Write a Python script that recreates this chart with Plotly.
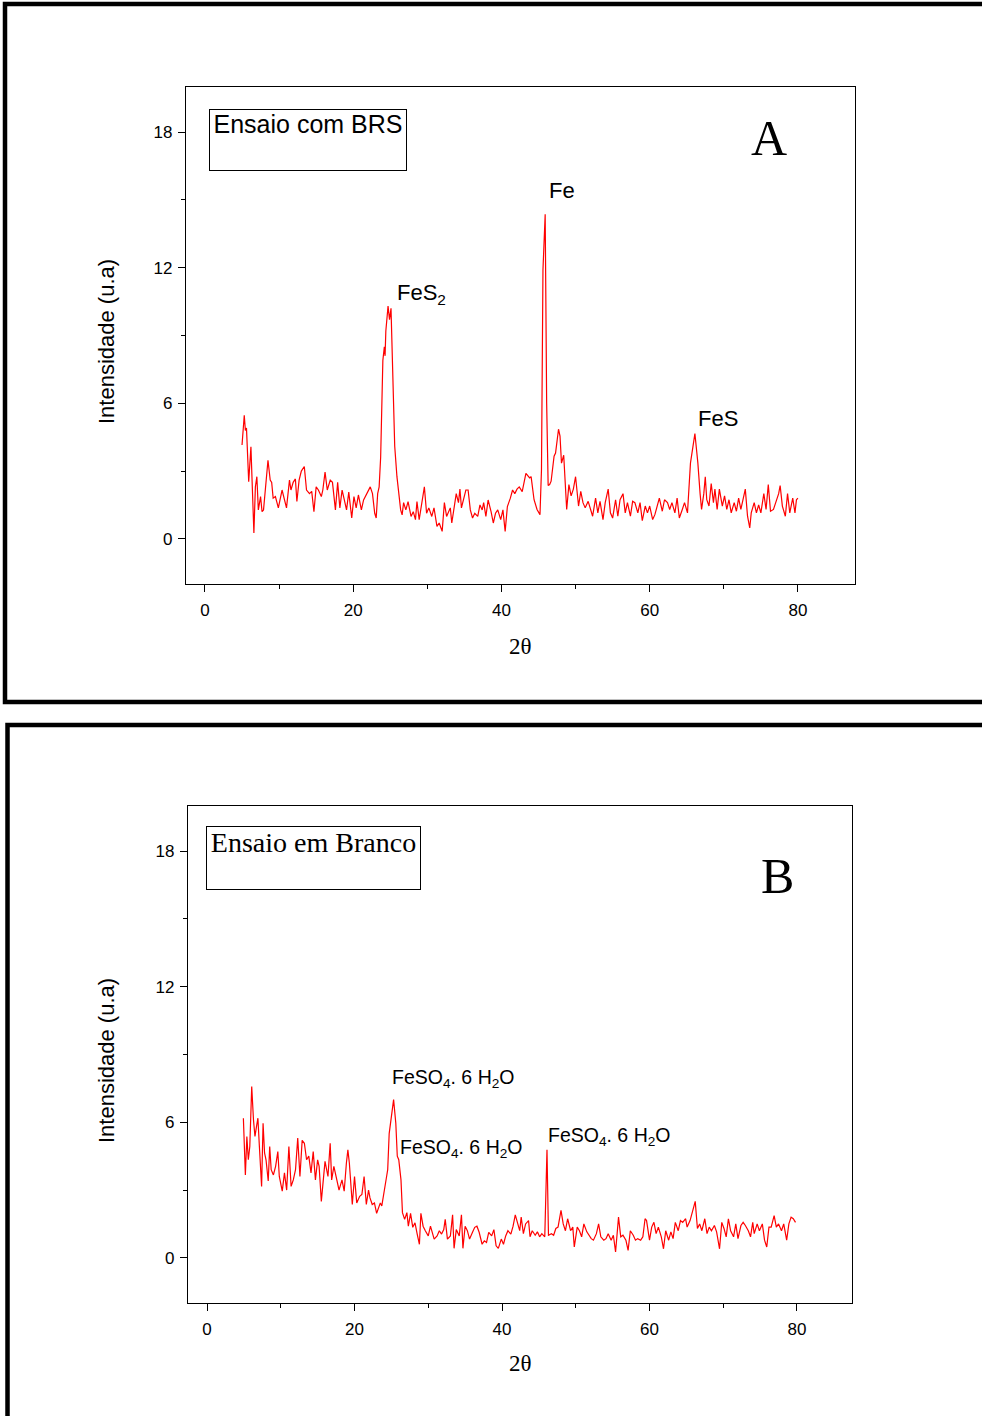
import plotly.graph_objects as go

# ---------------- data ----------------
a_x = [5.0, 5.3, 5.45, 5.6, 5.9, 6.2, 6.4, 6.6, 6.8, 7.0, 7.2, 7.5, 7.7, 7.9, 8.5, 8.8, 9.0, 9.2, 9.5, 9.7,
       9.9, 10.4, 10.7, 11.0, 11.4, 11.6, 11.9, 12.2, 12.4, 12.7, 13.0, 13.4, 13.7, 14.1, 14.4, 14.7, 15.0, 15.3,
       15.7, 15.9, 16.2, 16.5, 16.9, 17.2, 17.6, 17.9, 18.2, 18.5, 18.8, 19.1, 19.4, 19.8, 20.1, 20.4, 20.7, 21.1,
       21.4, 21.7, 22.3, 22.6, 22.9, 23.1, 23.3, 23.5, 23.7, 24.0, 24.2, 24.3, 24.4, 24.7, 24.9, 25.1, 25.3, 25.6,
       25.9, 26.1, 26.4, 26.6, 26.8, 27.1, 27.4, 27.8, 28.1, 28.4, 28.6, 28.9, 29.6, 29.9, 30.2, 30.6, 30.9, 31.3,
       31.6, 32.0, 32.3, 32.6, 33.1, 33.3, 33.9, 34.2, 34.4, 34.6, 34.9, 35.2, 35.5, 35.8, 36.1, 36.4, 36.8, 37.1,
       37.4, 37.6, 37.9, 38.2, 38.6, 38.9, 39.2, 39.5, 39.9, 40.2, 40.5, 40.8, 41.2, 41.5, 41.8, 42.1, 42.4, 42.8,
       43.3, 43.8, 44.0, 44.4, 44.8, 45.2, 45.4, 45.6, 45.9, 46.1, 46.3, 46.5, 46.7, 47.1, 47.3, 47.7, 47.9, 48.1,
       48.4, 48.6, 48.8, 49.1, 49.4, 49.7, 50.0, 50.4, 50.7, 51.0, 51.3, 51.7, 52.0, 52.3, 52.7, 53.0, 53.3, 53.7,
       54.0, 54.4, 54.7, 55.0, 55.4, 55.7, 56.0, 56.4, 56.7, 57.0, 57.4, 57.7, 58.0, 58.4, 58.7, 59.0, 59.4, 59.7,
       60.0, 60.4, 60.7, 61.0, 61.3, 61.7, 62.0, 62.4, 62.7, 63.0, 63.4, 63.7, 64.0, 64.4, 64.7, 65.1, 65.3, 65.5,
       66.1, 66.3, 66.5, 66.8, 67.0, 67.3, 67.5, 67.7, 68.0, 68.3, 68.6, 68.8, 69.1, 69.4, 69.8, 70.1, 70.4, 70.7,
       71.0, 71.4, 71.7, 72.0, 72.3, 72.9, 73.2, 73.5, 73.7, 74.1, 74.4, 74.7, 75.0, 75.4, 75.7, 76.0, 76.3, 76.7,
       77.0, 77.4, 77.6, 77.9, 78.3, 78.6, 78.9, 79.3, 79.6, 79.8, 80.0]
a_y = [4.15, 5.47, 4.8, 4.9, 2.53, 4.07, 2.16, 0.26, 2.3, 2.75, 1.28, 1.87, 1.2, 1.28, 3.48, 2.6, 2.5, 1.8, 1.87, 1.6,
       1.37, 2.16, 1.8, 1.37, 2.6, 2.16, 2.5, 2.65, 1.65, 2.6, 3.0, 3.2, 2.16, 2.0, 2.1, 1.2, 2.3, 2.16,
       1.87, 2.16, 2.95, 2.16, 2.6, 2.5, 1.28, 2.5, 1.37, 2.16, 1.72, 1.28, 2.07, 0.92, 1.87, 1.37, 1.94, 1.28,
       1.72, 1.94, 2.3, 2.0, 1.13, 0.92, 2.0, 2.3, 3.6, 7.9, 8.5, 8.1, 9.2, 10.3, 9.7, 10.2, 7.3, 4.1,
       2.75, 2.16, 1.28, 1.06, 1.6, 1.28, 1.65, 0.99, 1.2, 0.85, 1.65, 0.85, 2.3, 1.13, 1.37, 0.99, 1.37, 0.55,
       0.7, 0.33, 1.6, 0.99, 1.37, 0.7, 2.0, 1.6, 2.2, 1.37, 1.72, 2.16, 2.16, 1.28, 0.92, 1.13, 0.99, 1.5,
       1.28, 1.6, 0.99, 1.72, 1.2, 0.7, 1.13, 1.28, 0.85, 1.28, 0.33, 1.43, 1.8, 2.16, 2.0, 2.2, 2.3, 2.09,
       2.9, 2.7, 2.75, 1.73, 1.3, 1.07, 3.06, 11.9, 14.37, 6.0, 2.36, 2.4, 2.55, 3.66, 3.8, 4.85, 4.55, 3.35,
       3.7, 2.36, 1.3, 2.4, 1.9, 2.2, 2.75, 1.45, 2.1, 1.6, 1.37, 1.66, 1.3, 1.0, 1.8, 1.15, 1.66, 0.85,
       1.6, 2.2, 1.15, 0.92, 1.73, 1.0, 1.73, 2.0, 1.15, 1.6, 1.0, 1.66, 1.6, 1.15, 1.6, 0.8, 1.45, 1.15,
       1.45, 0.85, 1.07, 1.45, 1.8, 1.22, 1.73, 1.6, 1.3, 1.6, 1.15, 1.8, 0.92, 1.3, 1.6, 1.15, 2.2, 3.35,
       4.66, 4.1, 3.35, 2.0, 1.3, 2.0, 2.75, 1.73, 1.45, 2.45, 1.6, 2.2, 1.3, 2.2, 1.45, 1.9, 1.3, 1.73,
       1.15, 1.6, 1.22, 1.8, 1.3, 2.2, 1.0, 0.48, 1.15, 1.6, 1.15, 1.5, 1.15, 2.0, 1.3, 2.4, 1.22, 1.3,
       1.6, 2.0, 2.36, 1.45, 1.0, 2.0, 1.15, 1.8, 1.15, 1.73, 1.8]

b_x = [4.93, 5.2, 5.4, 5.6, 5.8, 6.06, 6.3, 6.5, 6.7, 6.9, 7.1, 7.4, 7.6, 7.8, 8.0, 8.3, 8.5, 8.7, 9.0, 9.3,
       9.6, 9.8, 10.2, 10.5, 10.8, 11.1, 11.4, 11.7, 12.0, 12.3, 12.6, 12.9, 13.2, 13.5, 13.8, 14.1, 14.4, 14.7,
       15.0, 15.2, 15.5, 15.8, 16.0, 16.4, 16.7, 16.9, 17.2, 17.6, 17.9, 18.3, 18.6, 18.9, 19.1, 19.3, 19.7, 20.0,
       20.3, 20.7, 21.0, 21.3, 21.6, 21.9, 22.1, 22.4, 22.7, 23.0, 23.2, 23.5, 23.7, 24.0, 24.3, 24.5, 24.7, 25.3,
       25.6, 25.8, 26.0, 26.3, 26.5, 26.8, 27.1, 27.3, 27.6, 27.9, 28.2, 28.5, 28.8, 29.0, 29.3, 29.6, 30.0, 30.3,
       30.6, 30.8, 31.2, 31.5, 31.8, 32.1, 32.3, 32.6, 33.0, 33.3, 33.5, 33.8, 34.2, 34.5, 34.7, 35.0, 35.3, 35.6,
       36.0, 36.3, 36.6, 36.9, 37.3, 37.6, 37.9, 38.2, 38.6, 38.9, 39.2, 39.5, 39.9, 40.2, 40.5, 40.8, 41.2, 41.5,
       41.8, 42.1, 42.4, 42.6, 42.9, 43.2, 43.6, 43.8, 44.1, 44.5, 44.8, 45.1, 45.4, 45.8, 46.1, 46.3, 46.7, 47.0,
       47.3, 47.6, 48.0, 48.3, 48.6, 48.9, 49.3, 49.6, 49.8, 50.2, 50.5, 50.8, 51.1, 51.5, 51.8, 52.1, 52.4, 52.8,
       53.1, 53.4, 53.8, 54.1, 54.4, 54.8, 55.1, 55.4, 55.8, 56.1, 56.4, 56.8, 57.1, 57.4, 57.8, 58.1, 58.4, 58.8,
       59.1, 59.4, 59.6, 60.0, 60.3, 60.6, 60.9, 61.2, 61.6, 61.9, 62.2, 62.6, 62.9, 63.2, 63.5, 63.9, 64.2, 64.5,
       64.9, 65.1, 65.5, 66.2, 66.5, 66.8, 67.1, 67.5, 67.8, 68.1, 68.4, 68.8, 69.1, 69.5, 69.8, 70.1, 70.4, 70.7,
       71.0, 71.4, 71.7, 72.0, 72.4, 72.7, 73.0, 73.4, 73.7, 74.0, 74.2, 74.6, 74.9, 75.3, 75.6, 75.9, 76.2, 76.5,
       76.9, 77.2, 77.5, 77.9, 78.2, 78.6, 78.9, 79.2, 79.5, 79.8]
b_y = [6.18, 3.67, 5.37, 4.34, 4.93, 7.58, 6.1, 5.37, 5.8, 6.18, 4.93, 3.16, 5.96, 4.64, 4.34, 3.4, 4.93, 3.9, 3.67, 4.05,
       4.7, 3.6, 2.95, 3.76, 3.0, 4.93, 3.16, 3.45, 3.9, 5.3, 3.6, 5.2, 5.07, 4.34, 4.5, 3.76, 4.7, 3.45,
       4.34, 4.05, 2.5, 3.76, 4.27, 3.6, 5.07, 3.45, 4.05, 3.45, 3.0, 3.45, 2.95, 4.2, 4.78, 4.2, 2.36, 3.6,
       2.43, 2.72, 2.8, 3.6, 2.36, 3.0, 2.65, 2.36, 2.43, 1.97, 2.2, 2.43, 2.3, 3.0, 3.5, 3.9, 5.5, 7.0,
       5.96, 4.5, 4.34, 3.45, 2.0, 1.7, 2.0, 1.4, 1.97, 1.35, 1.55, 1.05, 0.6, 1.97, 1.4, 1.2, 0.97, 1.4,
       1.05, 0.83, 0.97, 1.2, 1.05, 1.25, 1.7, 0.83, 0.97, 1.9, 0.42, 1.25, 0.97, 1.9, 0.42, 1.4, 1.2, 0.83,
       1.13, 1.35, 1.4, 1.13, 0.6, 0.75, 0.68, 1.13, 0.97, 1.25, 0.53, 0.42, 0.83, 0.6, 0.97, 1.2, 1.05, 1.4,
       1.9, 1.55, 1.2, 1.8, 1.07, 1.5, 1.65, 0.93, 1.2, 1.0, 1.15, 0.93, 1.07, 0.93, 4.78, 1.0, 1.07, 1.0,
       1.3, 1.36, 2.1, 1.5, 1.2, 1.73, 1.2, 1.36, 0.48, 1.36, 1.2, 0.93, 1.5, 1.15, 1.0, 0.85, 0.78, 1.07,
       1.5, 0.93, 0.78, 0.85, 1.07, 0.78, 1.0, 0.26, 1.8, 0.93, 1.0, 0.78, 0.33, 1.2, 1.0, 0.78, 0.85, 0.78,
       0.93, 1.73, 1.65, 0.78, 1.36, 1.57, 1.07, 1.36, 0.93, 0.4, 1.2, 0.78, 1.15, 0.85, 1.57, 1.2, 1.65, 1.57,
       1.73, 1.36, 1.65, 2.5, 1.3, 1.5, 1.2, 1.73, 1.07, 1.36, 1.2, 1.43, 1.15, 0.4, 1.57, 1.3, 0.93, 1.73,
       1.2, 0.93, 1.5, 0.85, 1.43, 1.57, 1.43, 1.2, 0.93, 1.57, 1.07, 1.5, 1.2, 1.5, 0.78, 0.48, 1.36, 1.36,
       1.87, 1.36, 1.5, 1.2, 1.5, 0.78, 1.5, 1.8, 1.73, 1.57]

x_major = [0, 20, 40, 60, 80]
x_minor = [10, 30, 50, 70]
y_major = [0, 6, 12, 18]
y_minor = [3, 9, 15]

W, H = 982, 1416
SANS = "Liberation Sans, Arial, sans-serif"
SERIF = "Liberation Serif, Times New Roman, serif"


def px(x):
    return x / W


def py(y):
    return 1 - y / H


fig = go.Figure()
fig.add_trace(go.Scatter(x=a_x, y=a_y, mode="lines", line=dict(color="#ff0000", width=1.2),
                         xaxis="x", yaxis="y", hoverinfo="skip"))
fig.add_trace(go.Scatter(x=b_x, y=b_y, mode="lines", line=dict(color="#ff0000", width=1.2),
                         xaxis="x2", yaxis="y2", hoverinfo="skip"))


def xax(domain, rng, anchor):
    return dict(domain=domain, range=rng, anchor=anchor, tickmode="array", tickvals=x_major,
                ticks="outside", ticklen=7, tickwidth=1.2, tickcolor="black", ticklabelstandoff=3,
                minor=dict(tickmode="array", tickvals=x_minor, ticks="outside", ticklen=4,
                           tickwidth=1.2, tickcolor="black"),
                showline=True, mirror=True, linecolor="black", linewidth=1.2,
                showgrid=False, zeroline=False,
                tickfont=dict(family=SANS, size=17, color="black"))


def yax(domain, anchor):
    return dict(domain=domain, range=[-2, 20], anchor=anchor, tickmode="array", tickvals=y_major,
                ticks="outside", ticklen=7, tickwidth=1.2, tickcolor="black", ticklabelstandoff=2,
                minor=dict(tickmode="array", tickvals=y_minor, ticks="outside", ticklen=4,
                           tickwidth=1.2, tickcolor="black"),
                showline=True, mirror=True, linecolor="black", linewidth=1.2,
                showgrid=False, zeroline=False,
                tickfont=dict(family=SANS, size=17, color="black"))


ann = []
# axis titles
for ycen in (342, 1061):
    ann.append(dict(x=px(106), y=py(ycen), xref="paper", yref="paper", text="Intensidade (u.a)",
                    textangle=-90, showarrow=False, font=dict(family=SANS, size=22, color="black"),
                    xanchor="center", yanchor="middle"))
for ycen in (646, 1363):
    ann.append(dict(x=px(520), y=py(ycen), xref="paper", yref="paper", text="2θ",
                    showarrow=False, font=dict(family=SERIF, size=23, color="black"),
                    xanchor="center", yanchor="middle"))

# boxed panel titles
ann.append(dict(x=px(308), y=py(140), xref="paper", yref="paper", text="Ensaio com BRS",
                showarrow=False, font=dict(family=SANS, size=25, color="black"),
                width=196, height=60, valign="top", align="center", borderpad=0,
                bordercolor="black", borderwidth=1, xanchor="center", yanchor="middle"))
ann.append(dict(x=px(313.5), y=py(858), xref="paper", yref="paper", text="Ensaio em Branco",
                showarrow=False, font=dict(family=SERIF, size=28, color="black"),
                width=213, height=62, valign="top", align="center", borderpad=0,
                bordercolor="black", borderwidth=1, xanchor="center", yanchor="middle"))

# panel letters
ann.append(dict(x=px(769), y=py(138), xref="paper", yref="paper", text="A", showarrow=False,
                font=dict(family=SERIF, size=50, color="black"), xanchor="center", yanchor="middle"))
ann.append(dict(x=px(777), y=py(876), xref="paper", yref="paper", text="B", showarrow=False,
                font=dict(family=SERIF, size=50, color="black"), xanchor="center", yanchor="middle"))

# peak labels
peak_labels = [
    ("FeS<sub>2</sub>", 395, 294, 22),
    ("Fe", 547, 190, 22),
    ("FeS", 696, 418, 22),
    ("FeSO<sub>4</sub>. 6 H<sub>2</sub>O", 390, 1078, 19.5),
    ("FeSO<sub>4</sub>. 6 H<sub>2</sub>O", 398, 1148, 19.5),
    ("FeSO<sub>4</sub>. 6 H<sub>2</sub>O", 546, 1136, 19.5),
]
for txt, lx, ly, fs in peak_labels:
    ann.append(dict(x=px(lx), y=py(ly), xref="paper", yref="paper", text=txt, showarrow=False,
                    font=dict(family=SANS, size=fs, color="black"), xanchor="left", yanchor="middle"))

shapes = [
    dict(type="rect", xref="paper", yref="paper", x0=px(5), x1=px(1000), y0=py(702), y1=py(4),
         line=dict(color="black", width=4.5), fillcolor="rgba(0,0,0,0)", layer="above"),
    dict(type="rect", xref="paper", yref="paper", x0=px(7.5), x1=px(1000), y0=py(1440), y1=py(725),
         line=dict(color="black", width=4.5), fillcolor="rgba(0,0,0,0)", layer="above"),
]

fig.update_layout(
    width=W, height=H, margin=dict(l=0, r=0, t=0, b=0, pad=0),
    paper_bgcolor="white", plot_bgcolor="white", showlegend=False,
    xaxis=xax([px(186), px(855)], [-2.56, 87.7], "y"),
    yaxis=yax([py(584), py(87)], "x"),
    xaxis2=xax([px(188), px(852)], [-2.58, 87.46], "y2"),
    yaxis2=yax([py(1303), py(806)], "x2"),
    annotations=ann, shapes=shapes,
)

fig.write_html(
    "out.html",
    config={"displayModeBar": False},
    post_script="document.body.style.margin='0px';document.body.style.overflow='hidden';",
)
